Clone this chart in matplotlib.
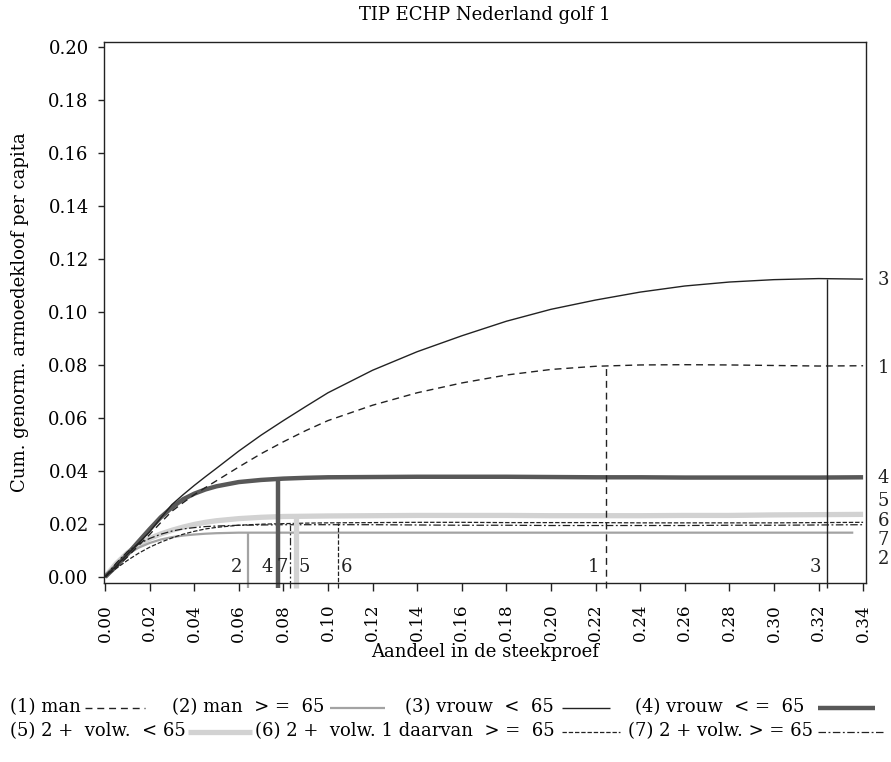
import matplotlib.pyplot as plt
from matplotlib.lines import Line2D

plt.rcParams['font.family'] = ['DejaVu Serif']

# share of sample (x) and cumulative normalised poverty gap per capita (y)
x_grid = [0.0, 0.005, 0.01, 0.015, 0.02, 0.025, 0.03, 0.035, 0.04, 0.045, 0.05,
          0.06, 0.07, 0.08, 0.09, 0.10, 0.12, 0.14, 0.16, 0.18, 0.20, 0.22,
          0.24, 0.26, 0.28, 0.30, 0.32, 0.34]

tip_1 = [0.0, 0.0037, 0.0075, 0.0118, 0.0160, 0.0205, 0.0248, 0.0280, 0.0310, 0.0337,
         0.0363, 0.0415, 0.0465, 0.0510, 0.0552, 0.0590, 0.0648, 0.0695, 0.0732, 0.0762,
         0.0783, 0.0795, 0.0800, 0.0801, 0.0800, 0.0798, 0.0796, 0.0797]
tip_2 = [0.0, 0.0048, 0.0085, 0.0110, 0.0128, 0.0141, 0.0150, 0.0156, 0.0160, 0.0163,
         0.0165, 0.0167, 0.0167, 0.0167, 0.0167, 0.0167, 0.0167, 0.0167, 0.0167, 0.0167,
         0.0167, 0.0167, 0.0167, 0.0167, 0.0167, 0.0167, 0.0167, 0.0167]
tip_3 = [0.0, 0.0042, 0.0085, 0.0127, 0.0170, 0.0222, 0.0273, 0.0310, 0.0345, 0.0378,
         0.0410, 0.0475, 0.0535, 0.0590, 0.0643, 0.0695, 0.0780, 0.0850, 0.0910, 0.0965,
         0.1010, 0.1045, 0.1075, 0.1098, 0.1113, 0.1122, 0.1126, 0.1124]
tip_4 = [0.0, 0.0040, 0.0085, 0.0133, 0.0180, 0.0225, 0.0262, 0.0293, 0.0314, 0.0330,
         0.0342, 0.0358, 0.0366, 0.0371, 0.0374, 0.0376, 0.0377, 0.0378, 0.0378, 0.0378,
         0.0377, 0.0376, 0.0376, 0.0375, 0.0375, 0.0375, 0.0375, 0.0376]
tip_5 = [0.0, 0.0050, 0.0090, 0.0121, 0.0145, 0.0162, 0.0176, 0.0188, 0.0198, 0.0206,
         0.0212, 0.0220, 0.0225, 0.0228, 0.0229, 0.0230, 0.0231, 0.0232, 0.0232, 0.0232,
         0.0231, 0.0231, 0.0231, 0.0232, 0.0232, 0.0234, 0.0235, 0.0236]
tip_6 = [0.0, 0.0032, 0.0062, 0.0089, 0.0112, 0.0131, 0.0147, 0.0161, 0.0172, 0.0181,
         0.0187, 0.0195, 0.0199, 0.0201, 0.0203, 0.0204, 0.0205, 0.0206, 0.0206, 0.0205,
         0.0205, 0.0205, 0.0204, 0.0204, 0.0204, 0.0204, 0.0205, 0.0206]
tip_7 = [0.0, 0.0052, 0.0095, 0.0124, 0.0145, 0.0161, 0.0173, 0.0181, 0.0186, 0.0190,
         0.0192, 0.0195, 0.0196, 0.0197, 0.0197, 0.0197, 0.0197, 0.0196, 0.0195, 0.0195,
         0.0194, 0.0194, 0.0194, 0.0194, 0.0195, 0.0195, 0.0196, 0.0197]
x_end_2 = 0.3356  # series 2 stops short of the axis end

# poverty headcount (where the TIP curve flattens) and its height
pov_share = [0.2248, 0.0643, 0.3239, 0.0776, 0.0857, 0.1045, 0.0830]
pov_gap = [0.0796, 0.0167, 0.1125, 0.0372, 0.0228, 0.0204, 0.0197]

group_ids = ['1', '2', '3', '4', '5', '6', '7']
legend_text = ['(1) man', '(2) man  > =  65', '(3) vrouw  <  65', '(4) vrouw  < =  65',
               '(5) 2 +  volw.  < 65', '(6) 2 +  volw. 1 daarvan  > =  65',
               '(7) 2 + volw. > = 65']

x_ticks = [0.00, 0.02, 0.04, 0.06, 0.08, 0.10, 0.12, 0.14, 0.16, 0.18, 0.20,
           0.22, 0.24, 0.26, 0.28, 0.30, 0.32, 0.34]
y_ticks = [0.00, 0.02, 0.04, 0.06, 0.08, 0.10, 0.12, 0.14, 0.16, 0.18, 0.20]

black = '#222222'
fs = 13
styles = {
    '1': dict(color=black, lw=1.0, dashes=(5, 3.5)),
    '2': dict(color='#a3a3a3', lw=1.6, linestyle='-'),
    '3': dict(color=black, lw=1.0, linestyle='-'),
    '4': dict(color='#585858', lw=3.2, linestyle='-'),
    '5': dict(color='#d2d2d2', lw=3.8, linestyle='-'),
    '6': dict(color=black, lw=0.9, dashes=(3.5, 1.5)),
    '7': dict(color=black, lw=0.9, dashes=(6, 2, 1.5, 2)),
}

W, H = 891, 762
fig = plt.figure(figsize=(W / 100, H / 100), dpi=100)
ax = fig.add_axes([104 / W, 1 - 583 / H, (866 - 104) / W, (583 - 42) / H])

series = {'1': tip_1, '2': tip_2, '3': tip_3, '4': tip_4,
          '5': tip_5, '6': tip_6, '7': tip_7}
draw_order = ['5', '2', '4', '1', '3', '6', '7']
for g in draw_order:
    xs = list(x_grid)
    ys = list(series[g])
    if g == '2':
        xs[-1] = x_end_2
    ax.plot(xs, ys, solid_capstyle='butt', solid_joinstyle='round', **styles[g])

ylo = -0.0023
for g, xv, yv in zip(group_ids, pov_share, pov_gap):
    ax.plot([xv, xv], [ylo - 0.0020, yv], clip_on=False,
            solid_capstyle='butt', **styles[g])

# group numbers at the foot of each vertical marker
foot = {'1': ('right', -0.0030), '2': ('right', -0.0028), '3': ('right', -0.0028),
        '4': ('right', -0.0022), '5': ('left', 0.0013), '6': ('left', 0.0012),
        '7': ('right', -0.0012)}
for g, xv in zip(group_ids, pov_share):
    ha, dx = foot[g]
    ax.text(xv + dx, 0.0002, g, ha=ha, va='bottom', fontsize=fs, color=black)

# group numbers on the right margin, spread so they do not collide
right_y = {'3': 0.1121, '1': 0.0789, '4': 0.0374, '5': 0.0287,
           '6': 0.0211, '7': 0.0140, '2': 0.0068}
for g in group_ids:
    ax.text(0.3464, right_y[g], g, ha='left', va='center', fontsize=fs,
            color=black, clip_on=False)

ax.set_xlim(-0.00045, 0.3413)
ax.set_ylim(ylo, 0.2019)
ax.set_xticks(x_ticks)
ax.set_xticklabels([f'{t:.2f}' for t in x_ticks], rotation=90, fontsize=12.2)
ax.set_yticks(y_ticks)
ax.set_yticklabels([f'{t:.2f}' for t in y_ticks], fontsize=fs)
ax.tick_params(axis='y', direction='out', length=4, width=1, color=black, pad=7)
ax.tick_params(axis='x', direction='out', length=6, width=1, color=black, pad=9)
for s in ax.spines.values():
    s.set_color(black)
    s.set_linewidth(1.0)

ax.set_ylabel('Cum. genorm. armoedekloof per capita', fontsize=fs, labelpad=14)
fig.text(485 / W, 1 - 652 / H, 'Aandeel in de steekproef', ha='center',
         va='center', fontsize=fs)
fig.text(485 / W, 1 - 15 / H, 'TIP ECHP Nederland golf 1', ha='center',
         va='center', fontsize=fs)

# legend below the axes: text followed by a line sample
legend_pos = [  # text x, sample start, sample end, row y (pixels)
    (10, 85, 145, 707), (172, 330, 385, 707), (405, 562, 610, 707), (635, 818, 875, 707),
    (10, 188, 252, 731), (255, 562, 620, 731), (628, 818, 885, 731),
]
for g, label, (tx, l0, l1, ry) in zip(group_ids, legend_text, legend_pos):
    fig.text(tx / W, 1 - ry / H, label, ha='left', va='center', fontsize=fs)
    st = dict(styles[g])
    fig.add_artist(Line2D([l0 / W, l1 / W], [1 - (ry + 1) / H] * 2,
                          transform=fig.transFigure, solid_capstyle='butt', **st))

fig.savefig('out.png', dpi=100)
